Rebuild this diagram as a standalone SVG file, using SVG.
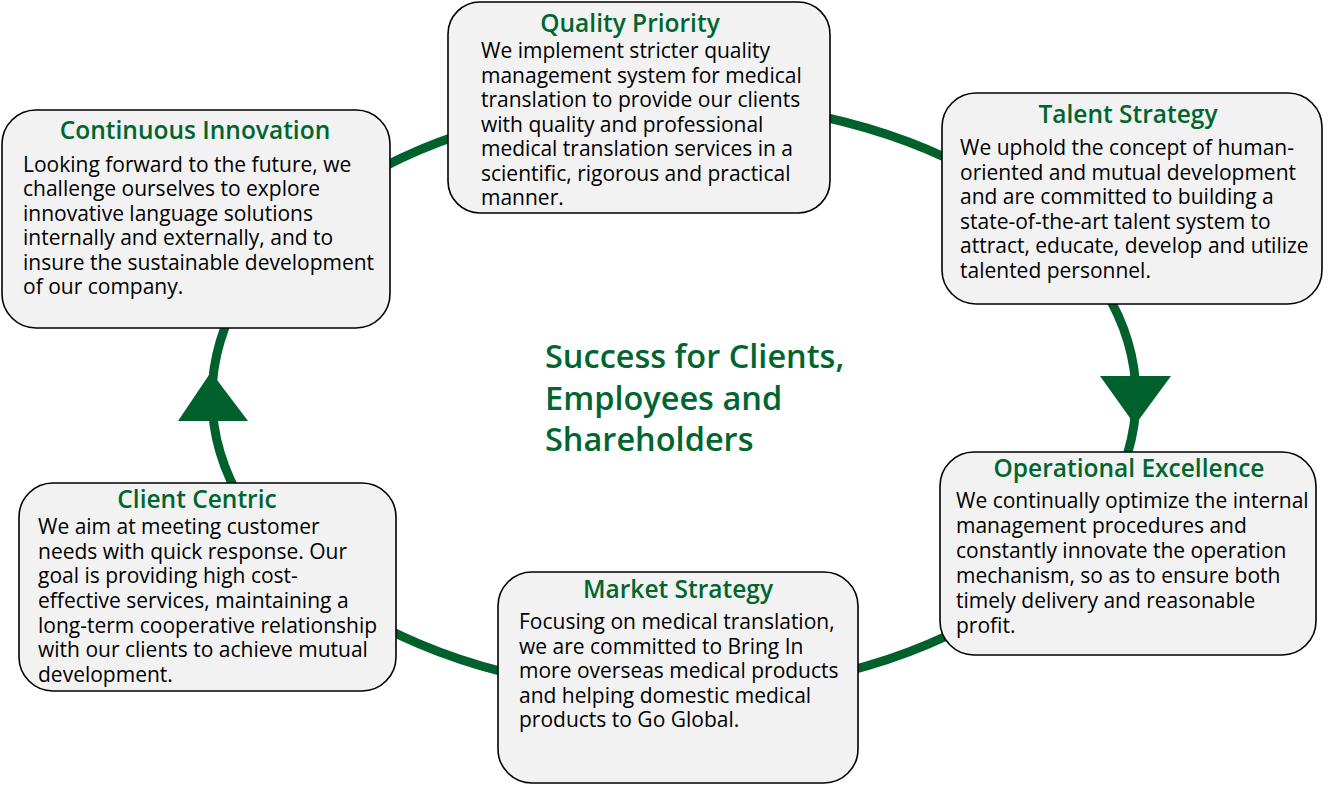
<svg xmlns="http://www.w3.org/2000/svg" width="1342" height="786" viewBox="0 0 1342 786">
<style>
.box{fill:#F2F2F2;stroke:#000;stroke-width:1.6}
.t{font-family:"Open Sans","Noto Sans",sans-serif;font-size:24.5px;font-weight:600;fill:#00652F;text-anchor:middle}
.b{font-family:"Open Sans","Noto Sans",sans-serif;font-size:21px;fill:#000}
.c{font-family:"Open Sans","Noto Sans",sans-serif;font-size:32.5px;font-weight:600;fill:#00652F}
.ring{fill:none;stroke:#00612D;stroke-width:9}
.arr{fill:#00612D}
</style>
<rect width="1342" height="786" fill="#fff"/>
<g id="connectors">
<ellipse class="ring" cx="674" cy="397" rx="462" ry="296"/>
<polygon class="arr" points="1100,376 1171,376 1135,425"/>
<polygon class="arr" points="178,421 248,421 211,372"/>
</g>
<g id="quality-priority">
<rect class="box" x="448" y="2" width="382" height="211" rx="32"/>
<text class="t" x="630" y="32">Quality Priority</text>
<text class="b" x="481"><tspan x="481" y="58">We implement stricter quality</tspan><tspan x="481" y="82.5">management system for medical</tspan><tspan x="481" y="107">translation to provide our clients</tspan><tspan x="481" y="131.5">with quality and professional</tspan><tspan x="481" y="156">medical translation services in a</tspan><tspan x="481" y="180.5">scientific, rigorous and practical</tspan><tspan x="481" y="205">manner.</tspan></text>
</g>
<g id="continuous-innovation">
<rect class="box" x="2" y="110" width="388" height="218" rx="34"/>
<text class="t" x="195" y="139">Continuous Innovation</text>
<text class="b"><tspan x="23" y="172">Looking forward to the future, we</tspan><tspan x="23" y="196.4">challenge ourselves to explore</tspan><tspan x="23" y="220.8">innovative language solutions</tspan><tspan x="23" y="245.2">internally and externally, and to</tspan><tspan x="23" y="269.6">insure the sustainable development</tspan><tspan x="23" y="294">of our company.</tspan></text>
</g>
<g id="talent-strategy">
<rect class="box" x="942" y="93" width="380" height="211" rx="34"/>
<text class="t" x="1128" y="123">Talent Strategy</text>
<text class="b"><tspan x="960" y="155">We uphold the concept of human-</tspan><tspan x="960" y="179.5">oriented and mutual development</tspan><tspan x="960" y="204">and are committed to building a</tspan><tspan x="960" y="228.5">state-of-the-art talent system to</tspan><tspan x="960" y="253">attract, educate, develop and utilize</tspan><tspan x="960" y="277.5">talented personnel.</tspan></text>
</g>
<g id="operational-excellence">
<rect class="box" x="940" y="452" width="376" height="203" rx="34"/>
<text class="t" x="1129" y="477">Operational Excellence</text>
<text class="b"><tspan x="956" y="508">We continually optimize the internal</tspan><tspan x="956" y="533">management procedures and</tspan><tspan x="956" y="558">constantly innovate the operation</tspan><tspan x="956" y="583">mechanism, so as to ensure both</tspan><tspan x="956" y="608">timely delivery and reasonable</tspan><tspan x="956" y="633">profit.</tspan></text>
</g>
<g id="market-strategy">
<rect class="box" x="498" y="572" width="360" height="211" rx="34"/>
<text class="t" x="678" y="598">Market Strategy</text>
<text class="b"><tspan x="519" y="629">Focusing on medical translation,</tspan><tspan x="519" y="653.5">we are committed to Bring In</tspan><tspan x="519" y="678">more overseas medical products</tspan><tspan x="519" y="702.5">and helping domestic medical</tspan><tspan x="519" y="727">products to Go Global.</tspan></text>
</g>
<g id="client-centric">
<rect class="box" x="19" y="483" width="377" height="208" rx="34"/>
<text class="t" x="197" y="508">Client Centric</text>
<text class="b"><tspan x="38" y="534">We aim at meeting customer</tspan><tspan x="38" y="558.7">needs with quick response. Our</tspan><tspan x="38" y="583.3">goal is providing high cost-</tspan><tspan x="38" y="608">effective services, maintaining a</tspan><tspan x="38" y="632.7">long-term cooperative relationship</tspan><tspan x="38" y="657.3">with our clients to achieve mutual</tspan><tspan x="38" y="682">development.</tspan></text>
</g>
<g id="center">
<text class="c"><tspan x="545" y="368">Success for Clients,</tspan><tspan x="545" y="410">Employees and</tspan><tspan x="545" y="451">Shareholders</tspan></text>
</g>
</svg>
